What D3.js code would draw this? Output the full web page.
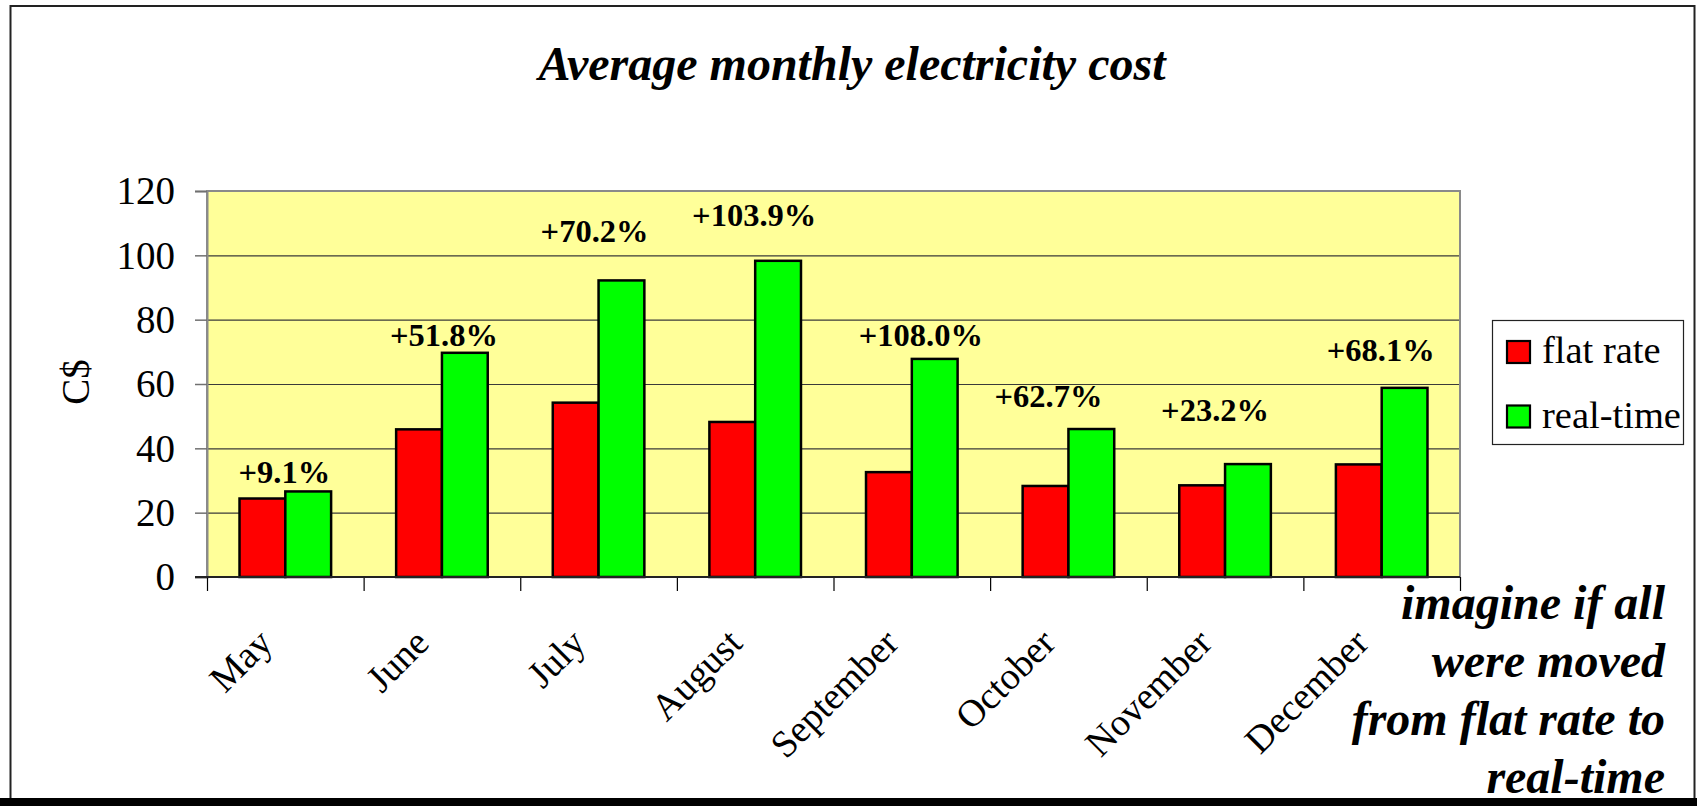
<!DOCTYPE html>
<html>
<head>
<meta charset="utf-8">
<script src="https://cdn.jsdelivr.net/npm/d3@7"></script>
<style>
  html, body { margin: 0; padding: 0; background: #ffffff; }
  svg { display: block; }
  text { font-family: "Liberation Serif", "Times New Roman", serif; fill: #000; }
</style>
</head>
<body>
<svg id="chart" width="1697" height="806"></svg>
<script>
// Monthly electricity cost in C$, flat rate vs. real-time pricing
const months = ["May", "June", "July", "August", "September", "October", "November", "December"];
const flatRate = [24.4, 45.9, 54.2, 48.2, 32.6, 28.3, 28.5, 35.0];
const realTime = [26.6, 69.7, 92.2, 98.3, 67.8, 46.0, 35.1, 58.8];
const increaseLabels = ["+9.1%", "+51.8%", "+70.2%", "+103.9%", "+108.0%", "+62.7%", "+23.2%", "+68.1%"];
const yTicks = [0, 20, 40, 60, 80, 100, 120];
const seriesNames = ["flat rate", "real-time"];

// Placement of the increase call-outs (height in C$ units, horizontal nudge in px)
const calloutLevel = [29.2, 71.7, 104.3, 109.0, 71.7, 52.9, 48.4, 67.0];
const calloutNudge = [-1, 2, -4, -1, 9, -20, -10, -1];

const svg = d3.select("#chart");
const W = 1697, H = 806;
const plot = { left: 207, right: 1460, top: 191, bottom: 577 };
const colors = ["#ff0000", "#00ff00"];
const serif = '"Liberation Serif", "Times New Roman", serif';

// Slide frame
svg.append("rect").attr("x", 10.5).attr("y", 6).attr("width", 1684).attr("height", 794)
  .attr("fill", "#fff").attr("stroke", "#222").attr("stroke-width", 2);
svg.append("rect").attr("x", 0).attr("y", 798).attr("width", W).attr("height", 8).attr("fill", "#000");

// Title
svg.append("text")
  .attr("x", 852).attr("y", 80)
  .attr("text-anchor", "middle")
  .style("font-size", "48px").style("font-weight", "bold").style("font-style", "italic")
  .text("Average monthly electricity cost");

const y = d3.scaleLinear().domain([0, 120]).range([plot.bottom, plot.top]);
const x0 = d3.scaleBand().domain(months).range([plot.left, plot.right]).padding(0);
const x1 = d3.scaleBand().domain(seriesNames).range([0, x0.bandwidth()])
  .paddingInner(0).paddingOuter(0.71);

// Plot area background
svg.append("rect")
  .attr("x", plot.left).attr("y", plot.top)
  .attr("width", plot.right - plot.left).attr("height", plot.bottom - plot.top)
  .attr("fill", "#ffff99");

// Horizontal gridlines
const grid = svg.append("g").attr("transform", `translate(${plot.left},0)`)
  .call(d3.axisLeft(y).tickValues(yTicks.slice(1, -1)).tickSize(-(plot.right - plot.left)).tickFormat(""));
grid.select(".domain").remove();
grid.selectAll("line").attr("stroke", "#3a3a3a").attr("stroke-width", 1.2);

// Plot border
svg.append("rect")
  .attr("x", plot.left).attr("y", plot.top)
  .attr("width", plot.right - plot.left).attr("height", plot.bottom - plot.top)
  .attr("fill", "none").attr("stroke", "#8a8a8a").attr("stroke-width", 2);

// Y axis
const yAxis = svg.append("g").attr("transform", `translate(${plot.left},0)`)
  .call(d3.axisLeft(y).tickValues(yTicks).tickSize(12).tickPadding(20));
yAxis.select(".domain").attr("stroke", "#8a8a8a").attr("stroke-width", 2);
yAxis.selectAll(".tick line").attr("stroke", "#707070").attr("stroke-width", 1.5);
yAxis.selectAll(".tick text")
  .style("font-size", "39px").style("font-family", serif)
  .attr("fill", "#000").attr("dy", "0.33em");

svg.append("text")
  .attr("transform", "translate(89,382) rotate(-90)")
  .attr("text-anchor", "middle")
  .style("font-size", "39px")
  .text("C$");

// Bars
const groups = svg.append("g").selectAll("g")
  .data(months.map((m, i) => ({ month: m, values: [flatRate[i], realTime[i]] })))
  .join("g")
  .attr("transform", d => `translate(${x0(d.month)},0)`);

groups.selectAll("rect")
  .data(d => d.values.map((v, k) => ({ key: seriesNames[k], value: v, k })))
  .join("rect")
  .attr("x", d => x1(d.key))
  .attr("y", d => y(d.value))
  .attr("width", x1.bandwidth())
  .attr("height", d => y(0) - y(d.value))
  .attr("fill", d => colors[d.k])
  .attr("stroke", "#000")
  .attr("stroke-width", 2.5);

// X axis line and category boundary ticks
const boundary = d3.scaleLinear().domain([0, months.length]).range([plot.left, plot.right]);
const xTicks = svg.append("g").attr("transform", `translate(0,${plot.bottom})`)
  .call(d3.axisBottom(boundary).ticks(months.length).tickSize(14).tickFormat(""));
xTicks.select(".domain").remove();
xTicks.selectAll(".tick line").attr("stroke", "#000").attr("stroke-width", 1.2);
svg.append("line")
  .attr("x1", 195).attr("x2", plot.right)
  .attr("y1", plot.bottom).attr("y2", plot.bottom)
  .attr("stroke", "#222").attr("stroke-width", 1.8);

// Month labels
const xAxis = svg.append("g").attr("transform", `translate(0,${plot.bottom})`)
  .call(d3.axisBottom(x0).tickSize(0).tickPadding(0));
xAxis.select(".domain").remove();
xAxis.selectAll(".tick text")
  .style("font-size", "38px").style("font-family", serif)
  .attr("fill", "#000")
  .attr("text-anchor", "end")
  .attr("dy", null).attr("y", null)
  .attr("transform", "translate(-11,68) rotate(-45)");

// Increase call-outs
svg.append("g").selectAll("text")
  .data(increaseLabels)
  .join("text")
  .attr("x", (d, i) => x0(months[i]) + x0.bandwidth() / 2 + calloutNudge[i])
  .attr("y", (d, i) => y(calloutLevel[i]))
  .attr("text-anchor", "middle")
  .style("font-size", "32.5px").style("font-weight", "bold")
  .text(d => d);

// Legend
const legend = svg.append("g");
legend.append("rect")
  .attr("x", 1492.5).attr("y", 320.5).attr("width", 191).attr("height", 124)
  .attr("fill", "#fff").attr("stroke", "#222").attr("stroke-width", 1.2);
seriesNames.forEach((name, k) => {
  legend.append("rect")
    .attr("x", 1507).attr("y", 341 + k * 64.5).attr("width", 23).attr("height", 22)
    .attr("fill", colors[k]).attr("stroke", "#000").attr("stroke-width", 2.2);
  legend.append("text")
    .attr("x", 1542).attr("y", 363 + k * 64.5)
    .style("font-size", "38.5px")
    .text(name);
});

// Side note
const note = ["imagine if all", "were moved", "from flat rate to", "real-time"];
svg.append("g").selectAll("text")
  .data(note)
  .join("text")
  .attr("x", 1665).attr("y", (d, i) => 619 + i * 58)
  .attr("text-anchor", "end")
  .style("font-size", "48px").style("font-weight", "bold").style("font-style", "italic")
  .text(d => d);
</script>
</body>
</html>
